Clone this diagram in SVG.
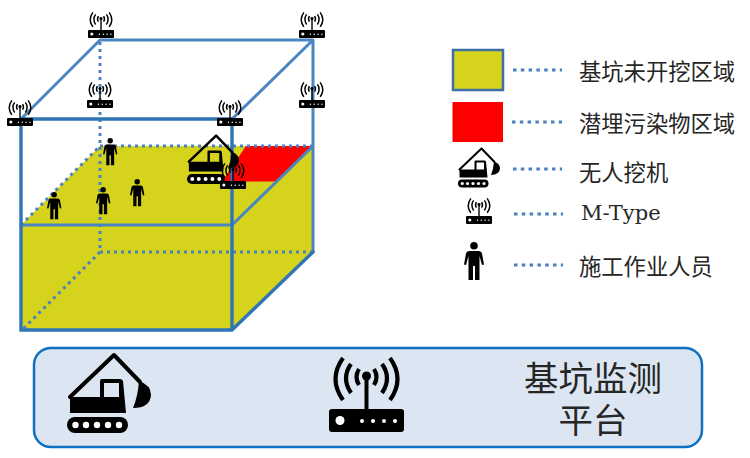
<svg xmlns="http://www.w3.org/2000/svg" xmlns:xlink="http://www.w3.org/1999/xlink" width="750" height="458" viewBox="0 0 750 458">
<style>
text{font-family:"Noto Sans CJK SC","Liberation Serif",serif;fill:#262626}
.lg{font-size:22.3px}
.pl{font-size:34.5px;text-anchor:middle}
.dot{fill:none;stroke:#4a82c0;stroke-width:3;stroke-dasharray:3 4}
.solid{fill:none;stroke:#4a86c0;stroke-width:3;stroke-linecap:round;stroke-linejoin:round}
.strong{fill:none;stroke:#2f75b5;stroke-width:3.4;stroke-linecap:round}
.leg{fill:none;stroke:#4a82c0;stroke-width:3;stroke-dasharray:3.5 4.3}
</style>
<defs>
<g id="router">
<path d="M37.500 15V52" fill="none" stroke="#000" stroke-width="4"/>
<circle cx="37.500" cy="19" r="4.500"/>
<g fill="none" stroke="#000" stroke-width="4.200">
<path d="M30 12Q25 20 30 28M45 12Q50 20 45 28"/>
<path d="M22 7Q12 21 22 36M53 7Q63 21 53 36"/>
<path d="M14 1Q-1 22 14 43M61 1Q76 22 61 43"/>
</g>
<rect x="0" y="52" width="75" height="23" rx="3"/>
<circle cx="11" cy="63.500" r="4.500" fill="#fff"/>
<g fill="#fff"><circle cx="33" cy="64" r="2"/><circle cx="44" cy="64" r="2"/><circle cx="55" cy="64" r="2"/><circle cx="66" cy="64" r="2"/></g>
</g>
<g id="excavator">
<path d="M3 43L47 1L73 28" fill="none" stroke="#000" stroke-width="4" stroke-linejoin="round" stroke-linecap="round"/>
<path d="M72 27Q84 31 84 41Q83 54 66 54Q71 42 72 27Z"/>
<path d="M3 43H33V27Q33 25 35 25H53Q55 25 56 27L59 59H3ZM37 29V43H52V29Z" fill-rule="evenodd"/>
<rect x="0" y="63" width="61" height="16" rx="8"/>
<g fill="#fff"><circle cx="8.500" cy="71" r="3.200"/><circle cx="19" cy="71" r="3.200"/><circle cx="30" cy="71" r="3.200"/><circle cx="41" cy="71" r="3.200"/><circle cx="52" cy="71" r="3.200"/></g>
</g>
<g id="person">
<circle cx="10" cy="3.800" r="3.800"/>
<path d="M5 9H15Q17.500 9 18 11.500L20 22.500L18 23L15.500 14V38H11V24H9V38H4.500V14L2 23L0 22.500L2 11.500Q2.500 9 5 9Z"/>
</g>
</defs>

<g id="pit-floor">
<polygon points="21,225 100,146 313,146 232,225" fill="#d6d31d"/>
<polygon points="21,225 232,225 232,330 21,330" fill="#d6d31d"/>
<polygon points="232,225 313,146 313,252 232,330" fill="#d6d31d"/>
<polygon points="246,146 313,146 277,181.500 222,181.500" fill="#ff0000"/>
</g>

<g id="connectors">
<path class="dot" d="M100 42V252M100 252H313M100 252L23 329M21 225L100 146M100 146H313"/>
<path class="solid" d="M21 119L100 40H313L232 119M313 40V252M313 146L232 225M21 225H232"/>
<path class="strong" d="M21 119H232V330M21 119V330H232L313 252"/>
</g>

<g id="person-1"><use xlink:href="#person" transform="translate(47 192) scale(.72)"/></g>
<g id="person-2"><use xlink:href="#person" transform="translate(103 138) scale(.72)"/></g>
<g id="person-3"><use xlink:href="#person" transform="translate(96 187) scale(.72)"/></g>
<g id="person-4"><use xlink:href="#person" transform="translate(130 179) scale(.72)"/></g>
<g id="excavator-site"><use xlink:href="#excavator" transform="translate(187 135) scale(.62)"/></g>

<g id="router-1"><use xlink:href="#router" transform="translate(88 12) scale(.347)"/></g>
<g id="router-2"><use xlink:href="#router" transform="translate(299 12) scale(.347)"/></g>
<g id="router-3"><use xlink:href="#router" transform="translate(87 82) scale(.347)"/></g>
<g id="router-4"><use xlink:href="#router" transform="translate(299 82) scale(.347)"/></g>
<g id="router-5"><use xlink:href="#router" transform="translate(7 100) scale(.347)"/></g>
<g id="router-6"><use xlink:href="#router" transform="translate(217 100) scale(.347)"/></g>
<g id="router-7"><use xlink:href="#router" transform="translate(220 163) scale(.347)"/></g>

<g id="legend-pit">
<rect x="453" y="50" width="50" height="40" fill="#d6d31d" stroke="#3f6ea5" stroke-width="2.500"/>
<path class="leg" d="M513 70H562"/>
<text class="lg" x="579" y="80">基坑未开挖区域</text>
</g>
<g id="legend-pollution">
<rect x="452.500" y="102" width="50.500" height="40" fill="#ff0000"/>
<path class="leg" d="M512 122H562"/>
<text class="lg" x="579" y="132">潜埋污染物区域</text>
</g>
<g id="legend-excavator">
<use xlink:href="#excavator" transform="translate(458 148) scale(.5)"/>
<path class="leg" d="M513 169H562"/>
<text class="lg" x="579" y="181">无人挖机</text>
</g>
<g id="legend-mtype">
<use xlink:href="#router" transform="translate(466 198) scale(.347)"/>
<path class="leg" d="M514 214H563"/>
<text x="581" y="220" style="font-family:'DejaVu Serif','Liberation Serif',serif;font-size:21px">M-Type</text>
</g>
<g id="legend-worker">
<use xlink:href="#person" transform="translate(464 242)"/>
<path class="leg" d="M514 265H563"/>
<text class="lg" x="579" y="275">施工作业人员</text>
</g>

<g id="platform">
<rect x="34" y="348" width="668" height="99" rx="17" fill="#dce6f2" stroke="#0f6fc0" stroke-width="2.500"/>
<use xlink:href="#excavator" transform="translate(67 354)"/>
<use xlink:href="#router" transform="translate(329 357)"/>
<text class="pl"><tspan x="593" y="391">基坑监测</tspan><tspan x="593" y="433">平台</tspan></text>
</g>
</svg>
